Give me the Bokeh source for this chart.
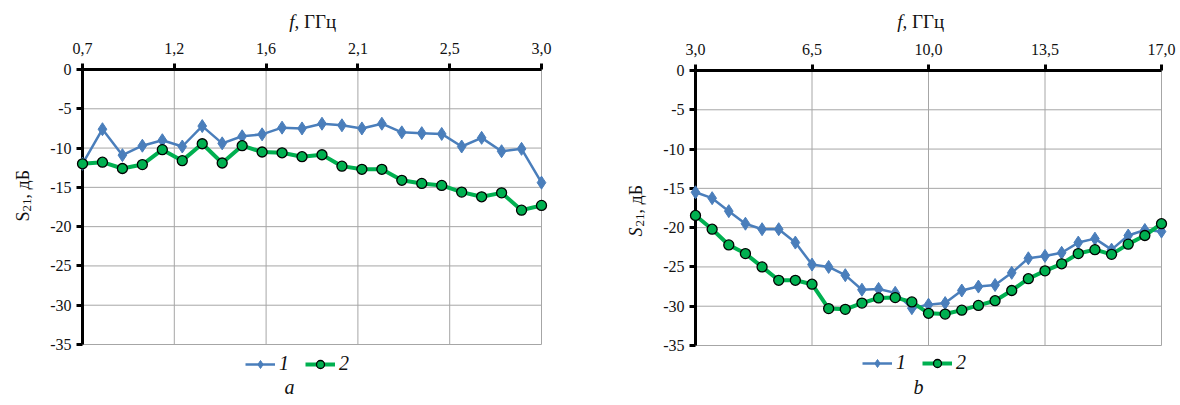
import numpy as np
from bokeh.plotting import figure
from bokeh.layouts import row
from bokeh.models import FixedTicker, Legend, LegendItem, Range1d, Label
from bokeh.embed import file_html
from bokeh.resources import INLINE

# ---------------- data ----------------
freq_a = [0.7, 0.8, 0.9, 1.0, 1.1, 1.2, 1.3, 1.4, 1.5, 1.6, 1.7, 1.8,
          1.9, 2.0, 2.1, 2.2, 2.3, 2.4, 2.5, 2.6, 2.7, 2.8, 2.9, 3.0]
s21_1_a = [-12.0, -7.6, -10.9, -9.7, -9.0, -9.8, -7.2, -9.4, -8.5, -8.25, -7.4, -7.5,
           -6.9, -7.1, -7.5, -6.9, -8.0, -8.1, -8.2, -9.8, -8.7, -10.4, -10.1, -14.4]
s21_2_a = [-12.0, -11.8, -12.6, -12.1, -10.2, -11.6, -9.45, -11.9, -9.7, -10.5, -10.6, -11.1,
           -10.85, -12.3, -12.7, -12.7, -14.1, -14.5, -14.75, -15.6, -16.2, -15.7, -17.9, -17.3]
xtick_labels_a = ["0,7", "1,2", "1,6", "2,1", "2,5", "3,0"]

freq_b = [3.0, 3.5, 4.0, 4.5, 5.0, 5.5, 6.0, 6.5, 7.0, 7.5, 8.0, 8.5, 9.0, 9.5, 10.0,
          10.5, 11.0, 11.5, 12.0, 12.5, 13.0, 13.5, 14.0, 14.5, 15.0, 15.5, 16.0, 16.5, 17.0]
s21_1_b = [-15.5, -16.25, -17.9, -19.5, -20.2, -20.2, -21.9, -24.7, -25.0, -26.05, -27.9, -27.8,
           -28.3, -30.25, -29.8, -29.6, -28.0, -27.5, -27.3, -25.75, -23.9, -23.6, -23.2, -21.9,
           -21.4, -22.8, -21.0, -20.3, -20.5]
s21_2_b = [-18.45, -20.2, -22.2, -23.3, -25.0, -26.7, -26.7, -27.2, -30.3, -30.4, -29.6, -28.95,
           -28.9, -29.45, -30.9, -31.0, -30.5, -29.9, -29.3, -28.0, -26.5, -25.5, -24.6, -23.3,
           -22.8, -23.4, -22.1, -21.0, -19.5]
xtick_labels_b = ["3,0", "6,5", "10,0", "13,5", "17,0"]

ytick_values = [0, -5, -10, -15, -20, -25, -30, -35]
ytick_labels = ["0", "-5", "-10", "-15", "-20", "-25", "-30", "-35"]
legend_labels = ["1", "2"]
captions = ["a", "b"]
xlabel_parts = ["f", ", ГГц"]
ylabel_parts = ["S", "21", ", дБ"]

BLUE = "#4a7ebb"
GREEN = "#00b050"
GRID = "#a6a6a6"
FONT = "Liberation Serif"
TXT = "#111111"
W, H = 590, 400


def make_chart(freq, s1, s2, xlabels, caption, italic_s, fl, fr, ft, fb,
               legend_xy, cap_x, xlab_x, ylab_x, ylab_bottom):
    """fl, fr, ft, fb: pixel edges of the data area inside the canvas."""
    xmin, xmax = freq[0], freq[-1]
    ymin, ymax = min(ytick_values), max(ytick_values)
    xticks = [float(v) for v in np.linspace(xmin, xmax, len(xlabels))]
    # canvas-wide frame: extend ranges so that the data area sits at fl..fr, ft..fb
    xs = (xmax - xmin) / (fr - fl)
    ys = (ymax - ymin) / (fb - ft)
    x_range = Range1d(xmin - fl * xs, xmax + (W - fr) * xs)
    y_range = Range1d(ymin - (H - fb) * ys, ymax + ft * ys)

    p = figure(width=W, height=H, output_backend="svg", toolbar_location=None,
               x_range=x_range, y_range=y_range, x_axis_location="above",
               min_border=0, min_border_left=0, min_border_right=0,
               min_border_top=0, min_border_bottom=0)
    p.outline_line_color = None
    p.grid.visible = False

    # grid lines (only inside the data area)
    p.segment(x0=[xmin] * len(ytick_values), y0=ytick_values,
              x1=[xmax] * len(ytick_values), y1=ytick_values,
              line_color=GRID, line_width=1)
    p.segment(x0=xticks, y0=[ymin] * len(xticks), x1=xticks, y1=[ymax] * len(xticks),
              line_color=GRID, line_width=1)

    xa, ya = p.xaxis[0], p.yaxis[0]
    xa.ticker = FixedTicker(ticks=xticks)
    xa.major_label_overrides = {t: l for t, l in zip(xticks, xlabels)}
    xa.fixed_location = ymax
    xa.bounds = (xmin, xmax)
    ya.ticker = FixedTicker(ticks=ytick_values)
    ya.major_label_overrides = {t: l for t, l in zip(ytick_values, ytick_labels)}
    ya.fixed_location = xmin
    ya.bounds = (ymin, ymax)
    for ax in (xa, ya):
        ax.axis_line_width = 3
        ax.axis_line_color = "black"
        ax.major_tick_line_width = 3
        ax.major_tick_line_color = "black"
        ax.major_tick_out = 6
        ax.major_tick_in = 0
        ax.minor_tick_out = 0
        ax.minor_tick_in = 0
        ax.major_label_text_font = FONT
        ax.major_label_text_font_size = "16px"
        ax.major_label_text_color = TXT
    xa.major_label_standoff = 10
    ya.major_label_standoff = 5

    l1 = p.line(freq, s1, line_color=BLUE, line_width=2.5, level="overlay")
    m1 = p.scatter(freq, s1, marker="diamond", size=13, fill_color=BLUE, line_color=BLUE,
                   level="overlay")
    l2 = p.line(freq, s2, line_color=GREEN, line_width=4, level="overlay")
    m2 = p.scatter(freq, s2, marker="circle", size=10, fill_color=GREEN, line_color="black",
                   line_width=1.3, level="overlay")

    legend = Legend(items=[LegendItem(label=legend_labels[0], renderers=[l1, m1]),
                           LegendItem(label=legend_labels[1], renderers=[l2, m2])],
                    orientation="horizontal", location=legend_xy,
                    label_text_font=FONT, label_text_font_style="italic",
                    label_text_font_size="20px", label_text_color=TXT,
                    glyph_width=30, glyph_height=20, label_height=20, label_width=10,
                    label_standoff=4, spacing=16, padding=0, margin=0,
                    border_line_color=None, background_fill_alpha=0)
    p.add_layout(legend)

    def lab(x, y, text, **kw):
        opts = dict(x=x, y=y, x_units="screen", y_units="screen", text=text,
                    text_font=FONT, text_color=TXT)
        opts.update(kw)
        p.add_layout(Label(**opts))

    # caption
    lab(cap_x, 14, caption, text_align="center", text_baseline="middle",
        text_font_style="italic", text_font_size="20px")
    # top title: italic f + ", ГГц"
    lab(xlab_x, H - 21, xlabel_parts[0], text_align="right", text_baseline="middle",
        text_font_style="italic", text_font_size="19px")
    lab(xlab_x, H - 21, xlabel_parts[1], text_align="left", text_baseline="middle",
        text_font_size="19px")
    # vertical title: S (subscript 21), дБ
    ang = np.pi / 2
    yb = H - ylab_bottom
    lab(ylab_x, yb, ylabel_parts[0], angle=ang, text_align="left", text_baseline="alphabetic",
        text_font_style="italic" if italic_s else "normal", text_font_size="18px")
    lab(ylab_x + 4, yb + 10, ylabel_parts[1], angle=ang, text_align="left",
        text_baseline="alphabetic", text_font_size="13px")
    lab(ylab_x, yb + 23, ylabel_parts[2], angle=ang, text_align="left",
        text_baseline="alphabetic", text_font_size="18px")
    return p


pa = make_chart(freq_a, s21_1_a, s21_2_a, xtick_labels_a, captions[0], False,
                fl=82, fr=541, ft=69, fb=344, legend_xy=(245, 25), cap_x=289,
                xlab_x=294, ylab_x=22, ylab_bottom=221)
pb = make_chart(freq_b, s21_1_b, s21_2_b, xtick_labels_b, captions[1], True,
                fl=105, fr=571, ft=70, fb=345, legend_xy=(272, 26), cap_x=328,
                xlab_x=312, ylab_x=45, ylab_bottom=236)

layout = row(pa, pb, spacing=0)
open("out.html", "w").write(file_html(layout, INLINE))
